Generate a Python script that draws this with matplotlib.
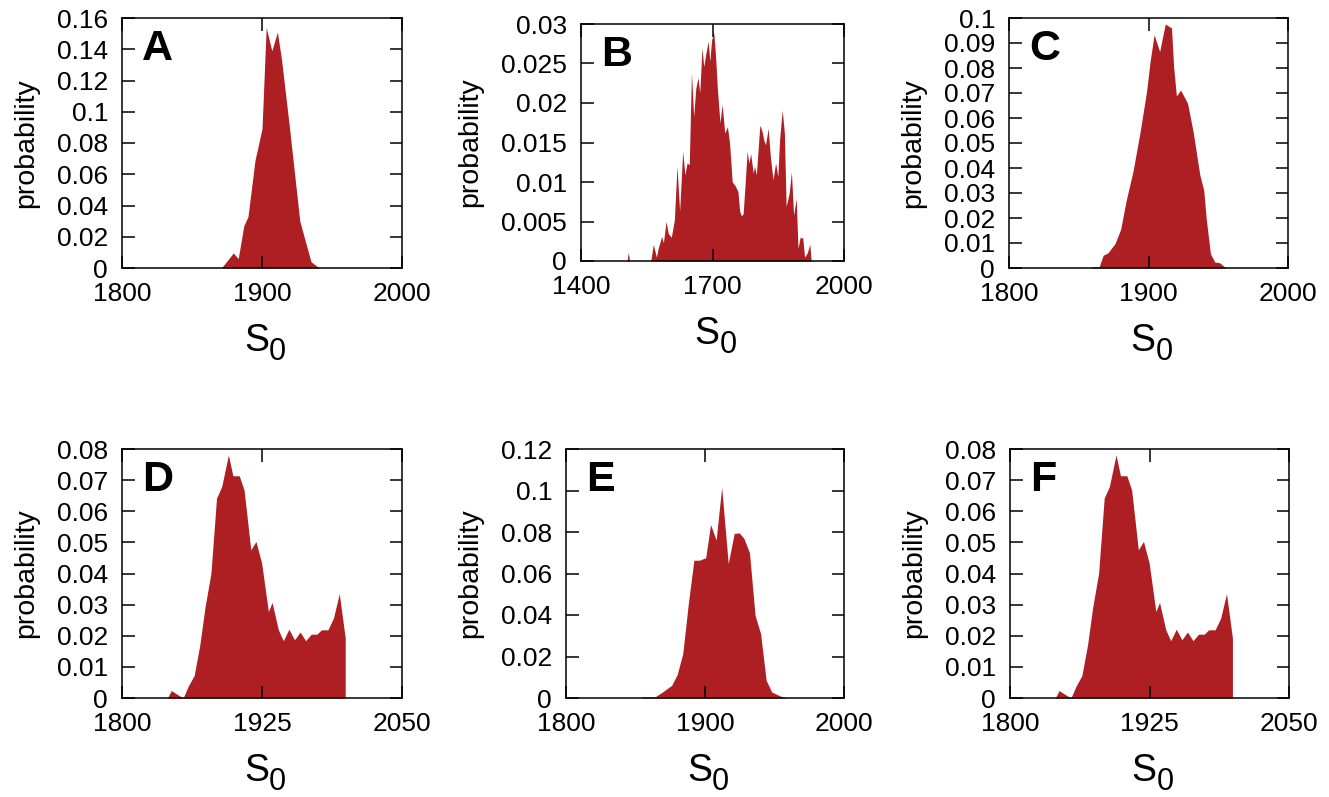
import numpy as np
import matplotlib
matplotlib.use('Agg')
import matplotlib.pyplot as plt
from matplotlib.ticker import FuncFormatter

plt.rcParams['font.family'] = ['Liberation Sans', 'DejaVu Sans']

# Panel A
a_x = [1871, 1879.5, 1883, 1887, 1890, 1895, 1900, 1903, 1907, 1911, 1914, 1919.6, 1927, 1935, 1940, 1941]
a_y = [0, 0.0096, 0.006, 0.027, 0.033, 0.069, 0.089, 0.154, 0.139, 0.151, 0.133, 0.090, 0.030, 0.004, 0.0006, 0]

# Panel B
b_x = [1505, 1508, 1511, 1559, 1565, 1572, 1576, 1584, 1588, 1594, 1599, 1606, 1613, 1619, 1625,
       1632, 1637, 1642, 1647, 1652, 1657, 1662, 1667, 1671, 1676, 1680, 1685, 1690, 1694, 1698,
       1703, 1707, 1711, 1717, 1722, 1728, 1734, 1739, 1745, 1751, 1758, 1762, 1766, 1770, 1775,
       1779, 1783, 1787, 1793, 1796, 1800, 1808, 1813, 1817, 1821, 1827, 1832, 1838, 1844, 1849,
       1853, 1859, 1864, 1868, 1875, 1880, 1885, 1891, 1895, 1900, 1906, 1910, 1916, 1922, 1925, 1927]
b_y = [0, 0.0011, 0, 0, 0.0021, 0.0005, 0.0016, 0.0031, 0.0023, 0.005, 0.0035, 0.003, 0.0052, 0.012, 0.0063,
       0.0139, 0.0109, 0.0124, 0.0122, 0.0239, 0.0183, 0.0219, 0.0232, 0.0213, 0.027, 0.0246, 0.0263, 0.0278, 0.0253, 0.028,
       0.0289, 0.0259, 0.0219, 0.0175, 0.0198, 0.0162, 0.017, 0.0149, 0.010, 0.0096, 0.0088, 0.0063, 0.0057, 0.006, 0.0103,
       0.0139, 0.0124, 0.0136, 0.0111, 0.012, 0.0109, 0.0172, 0.0164, 0.0153, 0.0147, 0.0168, 0.0132, 0.0103, 0.0124, 0.0107,
       0.0153, 0.0191, 0.0162, 0.0069, 0.0086, 0.0113, 0.0058, 0.0079, 0.0016, 0.003, 0.0029, 0.0005, 0.001, 0.0021, 0.0001, 0]

# Panel C
c_x = [1859, 1864.7, 1867.5, 1871, 1876, 1880, 1884, 1889, 1894, 1898.6, 1901, 1904, 1908, 1912, 1916.5,
       1918, 1920, 1923, 1928, 1932, 1936.8, 1939.6, 1941.5, 1944.4, 1947.5, 1951, 1954.6, 1956]
c_y = [0.0004, 0.0006, 0.0051, 0.0061, 0.0098, 0.0154, 0.027, 0.039, 0.0545, 0.0706, 0.082, 0.0933, 0.0866, 0.0976, 0.096,
       0.0806, 0.0688, 0.0712, 0.0659, 0.0545, 0.0372, 0.0311, 0.0191, 0.0057, 0.0024, 0.0021, 0.0004, 0]

# Panels D and F (same distribution)
d_x = [1840.6, 1844, 1850, 1854.6, 1859, 1864.4, 1869.5, 1874, 1879.4, 1884.4, 1889, 1895, 1899, 1904.7, 1909,
       1915, 1919.6, 1924.7, 1930.7, 1934, 1939.6, 1944, 1949, 1954, 1959, 1964, 1968.9, 1974, 1978, 1983.8,
       1988.8, 1994, 1999.3, 1999.3]
d_y = [0, 0.0024, 0.001, 0, 0.0037, 0.0072, 0.0171, 0.0289, 0.0401, 0.0642, 0.0679, 0.0781, 0.0714, 0.0714, 0.0668,
       0.0476, 0.0503, 0.0433, 0.0278, 0.0307, 0.0219, 0.0184, 0.0221, 0.0187, 0.0212, 0.0184, 0.0205, 0.0205, 0.0219, 0.0219,
       0.0257, 0.0335, 0.0193, 0]

# Panel E
e_x = [1854.5, 1864, 1870, 1876, 1880, 1884, 1888, 1892, 1896, 1900.5, 1904, 1908, 1912, 1916.7, 1921,
       1924.6, 1928, 1932, 1936, 1940, 1944, 1948, 1954, 1958.6]
e_y = [0.0005, 0.0005, 0.0032, 0.0061, 0.0113, 0.0214, 0.0455, 0.0664, 0.0664, 0.0676, 0.0836, 0.0761, 0.1015, 0.0648, 0.0793,
       0.0796, 0.0769, 0.070, 0.0399, 0.031, 0.0085, 0.0029, 0.001, 0]

panels = [
    # letter, x, y, box (left, right, top, bottom px), xticks, yticks
    ('A', a_x, a_y, (122, 402, 18, 268), [1800, 1900, 2000], np.arange(0, 0.161, 0.02)),
    ('B', b_x, b_y, (581, 844, 24, 261), [1400, 1700, 2000], np.arange(0, 0.0301, 0.005)),
    ('C', c_x, c_y, (1009, 1288, 18, 268), [1800, 1900, 2000], np.arange(0, 0.1001, 0.01)),
    ('D', d_x, d_y, (122, 402, 449, 698), [1800, 1925, 2050], np.arange(0, 0.0801, 0.01)),
    ('E', e_x, e_y, (566, 844, 449, 698), [1800, 1900, 2000], np.arange(0, 0.1201, 0.02)),
    ('F', d_x, d_y, (1010, 1289, 449, 698), [1800, 1925, 2050], np.arange(0, 0.0801, 0.01)),
]

W, H = 1329, 797
fig = plt.figure(figsize=(W / 100, H / 100), dpi=100)
red = '#ad1f23'

for letter, x, y, box, xt, yt in panels:
    l, r, t, b = box
    ax = fig.add_axes([l / W, 1 - b / H, (r - l) / W, (b - t) / H])
    ax.fill_between(x, y, 0, color=red, lw=0)
    ax.set_xlim(xt[0], xt[-1])
    ax.set_ylim(yt[0], yt[-1])
    ax.set_xticks(xt)
    ax.set_yticks(yt)
    ax.yaxis.set_major_formatter(FuncFormatter(lambda v, p: '%g' % round(v, 4)))
    ax.tick_params(direction='in', length=9, width=1.1, top=True, right=True,
                   labelsize=19, pad=10)
    for s in ax.spines.values():
        s.set_linewidth(1.1)
    ax.set_ylabel('probability', fontsize=20.5, labelpad=13)
    ax.annotate(letter, xy=(0, 1), xycoords='axes fraction', xytext=(14.5, -30),
                textcoords='offset points', ha='left', va='baseline',
                fontsize=31, fontweight='bold')
    ax.annotate('S', xy=(0.5, 0), xycoords='axes fraction', xytext=(5, -60),
                textcoords='offset points', ha='right', va='baseline', fontsize=27)
    ax.annotate('0', xy=(0.5, 0), xycoords='axes fraction', xytext=(5, -66),
                textcoords='offset points', ha='left', va='baseline', fontsize=22)

fig.savefig('out.png', dpi=100)
